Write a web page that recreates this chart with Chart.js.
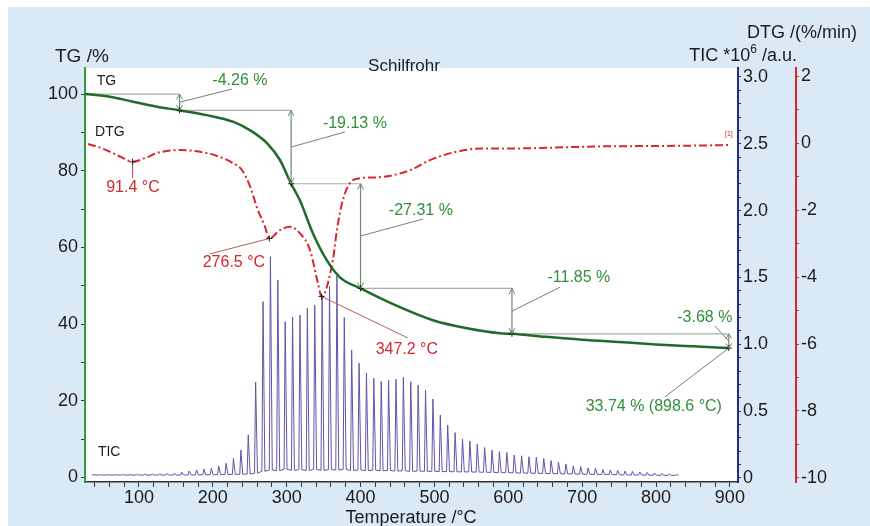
<!DOCTYPE html>
<html>
<head>
<meta charset="utf-8">
<title>Schilfrohr - TG / DTG / TIC</title>
<script src="https://cdn.jsdelivr.net/npm/chart.js@4.4.1/dist/chart.umd.min.js"></script>
<style>
    html, body { margin: 0; padding: 0; background: #ffffff; }
    #wrap { width: 870px; height: 526px; }
</style>
</head>
<body>
<div id="wrap"><canvas id="chartTG" width="870" height="526"></canvas></div>
<script>
// ---- values ----

// TG curve (mass, %)
const tgTemp = [27, 60.7, 91.9, 124.4, 155.5, 192, 227.2, 250.2, 273.3, 290.9, 306, 317.9, 335.5, 354.5, 372.1, 400,
    453.3, 497.9, 544, 588.6, 605, 650, 700, 750, 800, 850, 898.6];
const tgValue = [100, 99.3, 98.0, 96.7, 95.74, 94.5, 92.8, 90.6, 87.2, 82.8, 76.61, 72.3, 63.7, 56.6, 52.2, 49.3,
    44.4, 41.0, 38.9, 37.6, 37.45, 36.7, 35.9, 35.3, 34.7, 34.2, 33.74];

// DTG curve (%/min)
const dtgTemp = [31, 45, 60.7, 76, 91.4, 108, 124.4, 140, 155.5, 175, 192, 210, 227.2, 240, 250.2, 261, 269.9,
    276.5, 290.9, 304.4, 317.9, 331.5, 342.3, 347.2, 362.6, 368, 376.1, 385.6, 399.1, 415, 430.3, 450, 466.8, 480,
    493.9, 510, 530, 565.6, 611.2, 656.3, 724, 791.7, 859.3, 899.9];
const dtgValue = [-0.03, -0.12, -0.26, -0.42, -0.56, -0.45, -0.30, -0.23, -0.21, -0.24, -0.30, -0.42, -0.60, -0.82,
    -1.28, -2.00, -2.45, -2.85, -2.60, -2.50, -2.69, -3.19, -4.18, -4.58, -3.49, -2.60, -1.70, -1.20, -1.05, -1.03,
    -1.01, -0.93, -0.81, -0.67, -0.51, -0.38, -0.26, -0.16, -0.16, -0.14, -0.10, -0.09, -0.075, -0.06];

// TIC spikes (one MS scan every ~10 °C), peak height and local baseline, *10^6 a.u.
const ticPeakTemp = [38, 48, 58, 68, 78, 88, 98, 108, 118, 128, 138, 148, 158, 168, 178, 188, 198, 208, 218, 228,
    238, 248, 258, 268, 278, 288, 298, 308, 318, 328, 338, 348, 358, 368, 378, 388, 398, 408, 418, 428,
    438, 448, 458, 468, 478, 488, 498, 508, 518, 528, 538, 548, 558, 568, 578, 588, 598, 608, 618, 628,
    638, 648, 658, 668, 678, 688, 698, 708, 718, 728, 738, 748, 758, 768, 778, 788, 798, 808, 818, 828];
const ticPeakValue = [0.026, 0.026, 0.026, 0.026, 0.026, 0.027, 0.028, 0.029, 0.030, 0.031, 0.034, 0.037, 0.043,
    0.052, 0.060, 0.067, 0.073, 0.090, 0.110, 0.147, 0.209, 0.322, 0.718, 1.319, 1.655, 1.481, 1.169, 1.204,
    1.219, 1.269, 1.294, 1.354, 1.436, 1.511, 1.200, 0.957, 0.858, 0.785, 0.746, 0.722, 0.733, 0.737, 0.753,
    0.720, 0.696, 0.658, 0.591, 0.471, 0.396, 0.339, 0.292, 0.277, 0.254, 0.228, 0.209, 0.197, 0.191, 0.172,
    0.166, 0.159, 0.156, 0.146, 0.131, 0.120, 0.105, 0.090, 0.085, 0.075, 0.073, 0.064, 0.060, 0.056, 0.052,
    0.049, 0.045, 0.041, 0.037, 0.034, 0.030, 0.026];
const ticBaseValue = [0.022, 0.022, 0.022, 0.022, 0.022, 0.022, 0.022, 0.022, 0.022, 0.022, 0.022, 0.022, 0.022,
    0.023, 0.023, 0.024, 0.024, 0.025, 0.026, 0.027, 0.028, 0.030, 0.035, 0.050, 0.060, 0.055, 0.065, 0.058,
    0.062, 0.056, 0.064, 0.058, 0.062, 0.060, 0.065, 0.056, 0.060, 0.055, 0.058, 0.054, 0.056, 0.052, 0.054,
    0.050, 0.052, 0.050, 0.050, 0.048, 0.048, 0.046, 0.046, 0.045, 0.044, 0.043, 0.042, 0.040, 0.040, 0.038,
    0.037, 0.036, 0.035, 0.034, 0.033, 0.032, 0.031, 0.030, 0.029, 0.028, 0.027, 0.026, 0.025, 0.024, 0.023,
    0.022, 0.022, 0.021, 0.021, 0.020, 0.020, 0.020];

// TG mass-loss steps
const stepTemp = [27, 155, 306, 400, 605, 898.6];
const stepLevel = [100, 95.74, 76.61, 49.30, 37.45, 33.74];
const stepLabels = ["-4.26 %", "-19.13 %", "-27.31 %", "-11.85 %", "-3.68 %"];
const stepLabelTemp = [236.7, 392.4, 481.7, 695.6, 866.1];
const stepLabelLevel = [103.6, 92.2, 69.5, 52.0, 41.6];
const stepLeadTemp = [225.9, 378.8, 484.4, 669.9, 879.6];
const stepLeadLevel = [101.3, 90.1, 67.4, 49.6, 39.5];

const residueLabel = "33.74 % (898.6 °C)";
const residueLabelAt = [797, 18.6];
const residueLeadAt = [812, 21.0];

// DTG peaks
const peakTemp = [91.4, 276.5, 347.2];
const peakValue = [-0.56, -2.85, -4.58];
const peakLabels = ["91.4 °C", "276.5 °C", "347.2 °C"];
const peakLabelTemp = [91.9, 228.6, 462.7];
const peakLabelValue = [-1.34, -3.58, -6.18];
const peakLeadTemp = [91.4, 196.1, 464.1];
const peakLeadValue = [-1.04, -3.31, -5.82];

// axis ticks
const xTicks = [40, 60, 80, 100, 120, 140, 160, 180, 200, 220, 240, 260, 280, 300, 320, 340, 360, 380, 400, 420,
    440, 460, 480, 500, 520, 540, 560, 580, 600, 620, 640, 660, 680, 700, 720, 740, 760, 780, 800, 820, 840, 860,
    880, 900];
const xLabelTicks = [100, 200, 300, 400, 500, 600, 700, 800, 900];
const tgTicks = [0, 10, 20, 30, 40, 50, 60, 70, 80, 90, 100];
const tgLabelTicks = [0, 20, 40, 60, 80, 100];
const ticTicks = [0, 0.1, 0.2, 0.3, 0.4, 0.5, 0.6, 0.7, 0.8, 0.9, 1.0, 1.1, 1.2, 1.3, 1.4, 1.5, 1.6, 1.7, 1.8,
    1.9, 2.0, 2.1, 2.2, 2.3, 2.4, 2.5, 2.6, 2.7, 2.8, 2.9, 3.0];
const ticLabelTicks = [0, 0.5, 1.0, 1.5, 2.0, 2.5, 3.0];
const ticLabelText = ["0", "0.5", "1.0", "1.5", "2.0", "2.5", "3.0"];
const dtgTicks = [-10, -9, -8, -7, -6, -5, -4, -3, -2, -1, 0, 1, 2];
const dtgLabelTicks = [-10, -8, -6, -4, -2, 0, 2];

// ---- styling ----
const FONT = "'Liberation Sans', Arial, Helvetica, sans-serif";
const colTG = "#1f6b2c";
const colTGAxis = "#2f9b3e";
const colDTG = "#d8262c";
const colTIC = "#5d57aa";
const colTICAxis = "#2b2b7d";
const colGreenText = "#2f8f3a";
const colRedText = "#d4262b";
const colText = "#1c1c1c";
const bgBlue = "#dae9f6";

const pairs = (xs, ys) => xs.map((x, i) => ({ x: x, y: ys[i] }));

const majorLabel = (majors, texts) => (value) => {
    const i = majors.findIndex(m => Math.abs(m - value) < 1e-6);
    if (i < 0) return "";
    return texts ? texts[i] : String(majors[i]);
};

const fixTicks = (list) => (scale) => {
    scale.ticks = list.map(v => ({ value: v }));
};

// spike shapes for the TIC trace
const ticPoints = [];
ticPeakTemp.forEach((t, i) => {
    ticPoints.push({ x: t - 1.5, y: ticBaseValue[i] });
    ticPoints.push({ x: t, y: ticPeakValue[i] });
    ticPoints.push({ x: t + 2.5, y: ticBaseValue[i] });
});

const lineSet = (data, color, axis, width) => ({
    type: "line",
    data: data,
    yAxisID: axis,
    borderColor: color,
    borderWidth: width || 1,
    pointRadius: 0,
    fill: false,
    tension: 0,
    order: 5
});

// guide lines of the step analysis
const guideSets = [];
for (let i = 1; i < stepTemp.length; i++) {
    guideSets.push(lineSet([{ x: stepTemp[i - 1], y: stepLevel[i - 1] }, { x: stepTemp[i], y: stepLevel[i - 1] }],
        "#a3b3a3", "yTg", 1.2));
    guideSets.push(lineSet([{ x: stepTemp[i], y: stepLevel[i - 1] }, { x: stepTemp[i], y: stepLevel[i] }],
        "#6d8c6d", "yTg", 1.2));
    const mid = (stepLevel[i - 1] + stepLevel[i]) / 2;
    guideSets.push(lineSet([{ x: stepTemp[i], y: mid }, { x: stepLeadTemp[i - 1], y: stepLeadLevel[i - 1] }],
        "#7d7d7d", "yTg"));
}
const lastStep = stepTemp.length - 1;
guideSets.push(lineSet([{ x: stepTemp[lastStep], y: stepLevel[lastStep] }, { x: residueLeadAt[0], y: residueLeadAt[1] }],
    "#7d7d7d", "yTg"));
peakTemp.forEach((t, i) => {
    guideSets.push(lineSet([{ x: t, y: peakValue[i] }, { x: peakLeadTemp[i], y: peakLeadValue[i] }],
        "#b5605c", "yDtg"));
});

// background and plot frame
const framePlugin = {
    id: "frame",
    beforeDraw(chart) {
        const { ctx, width, height, chartArea: a } = chart;
        ctx.save();
        ctx.fillStyle = "#ffffff";
        ctx.fillRect(0, 0, width, height);
        ctx.fillStyle = bgBlue;
        ctx.fillRect(8, 7, width - 8, height - 7);
        ctx.fillStyle = "#ffffff";
        ctx.fillRect(a.left, a.top, a.right - a.left, a.bottom - a.top);
        ctx.restore();
    }
};

// titles, annotations and arrow heads
const textPlugin = {
    id: "texts",
    afterDraw(chart) {
        const { ctx } = chart;
        const sx = chart.scales.x, sTg = chart.scales.yTg, sDtg = chart.scales.yDtg;
        const put = (text, x, y, size, color, align) => {
            ctx.font = size + "px " + FONT;
            ctx.fillStyle = color;
            ctx.textAlign = align || "center";
            ctx.textBaseline = "middle";
            ctx.fillText(text, x, y);
        };
        ctx.save();

        // axis titles
        put("TG /%", 55, 57, 19, colText, "left");
        put("DTG /(%/min)", 857, 33, 18, colText, "right");
        ctx.font = "18px " + FONT;
        const part1 = "TIC *10", part3 = " /a.u.";
        const w1 = ctx.measureText(part1).width, w3 = ctx.measureText(part3).width;
        ctx.font = "12px " + FONT;
        const w2 = ctx.measureText("6").width;
        let tx = 797 - (w1 + w2 + w3);
        put(part1, tx, 56, 18, colText, "left");
        put("6", tx + w1, 50, 12, colText, "left");
        put(part3, tx + w1 + w2, 56, 18, colText, "left");
        put("Schilfrohr", 404, 66, 17, colText);
        put("Temperature /°C", 411, 518, 18, colText);

        // curve names
        put("TG", sx.getPixelForValue(43), sTg.getPixelForValue(103.4), 14, colText, "left");
        put("DTG", sx.getPixelForValue(40.6), sTg.getPixelForValue(90.1), 14, colText, "left");
        put("TIC", sx.getPixelForValue(44.5), sTg.getPixelForValue(6.6), 14, colText, "left");

        // step labels
        stepLabels.forEach((s, i) => {
            put(s, sx.getPixelForValue(stepLabelTemp[i]), sTg.getPixelForValue(stepLabelLevel[i]), 16, colGreenText);
        });
        put(residueLabel, sx.getPixelForValue(residueLabelAt[0]), sTg.getPixelForValue(residueLabelAt[1]), 16, colGreenText);

        // DTG peak labels
        peakLabels.forEach((s, i) => {
            put(s, sx.getPixelForValue(peakLabelTemp[i]), sDtg.getPixelForValue(peakLabelValue[i]), 16, colRedText);
        });
        put("[1]", sx.getPixelForValue(898.6), sDtg.getPixelForValue(0.27), 7, colRedText);

        // double arrow heads on the step arrows
        ctx.strokeStyle = "#6d8c6d";
        ctx.lineWidth = 1;
        for (let i = 1; i < stepTemp.length; i++) {
            const x = sx.getPixelForValue(stepTemp[i]);
            const y1 = sTg.getPixelForValue(stepLevel[i - 1]);
            const y2 = sTg.getPixelForValue(stepLevel[i]);
            const h = Math.min(6, (y2 - y1) / 3);
            ctx.beginPath();
            ctx.moveTo(x - 3, y1 + h); ctx.lineTo(x, y1); ctx.lineTo(x + 3, y1 + h);
            ctx.moveTo(x - 3, y2 - h); ctx.lineTo(x, y2); ctx.lineTo(x + 3, y2 - h);
            ctx.stroke();
        }
        ctx.restore();
    }
};

const axisFont = { family: FONT, size: 18 };

new Chart(document.getElementById("chartTG"), {
    type: "line",
    data: {
        datasets: [
            {
                label: "TG markers",
                data: pairs(stepTemp.slice(1), stepLevel.slice(1)),
                yAxisID: "yTg",
                showLine: false,
                pointStyle: "cross",
                pointRadius: 3,
                pointBorderColor: "#1c1c1c",
                pointBorderWidth: 1,
                order: 1
            },
            {
                label: "DTG markers",
                data: pairs(peakTemp, peakValue),
                yAxisID: "yDtg",
                showLine: false,
                pointStyle: "cross",
                pointRadius: 3,
                pointBorderColor: "#1c1c1c",
                pointBorderWidth: 1,
                order: 1
            },
            {
                label: "TG",
                data: pairs(tgTemp, tgValue),
                yAxisID: "yTg",
                borderColor: colTG,
                borderWidth: 2.5,
                pointRadius: 0,
                cubicInterpolationMode: "monotone",
                fill: false,
                order: 2
            },
            {
                label: "DTG",
                data: pairs(dtgTemp, dtgValue),
                yAxisID: "yDtg",
                borderColor: colDTG,
                borderWidth: 2,
                borderDash: [8, 3, 2, 3],
                pointRadius: 0,
                cubicInterpolationMode: "monotone",
                fill: false,
                order: 3
            },
            ...guideSets,
            {
                label: "TIC",
                data: ticPoints,
                yAxisID: "yTic",
                borderColor: colTIC,
                borderWidth: 1,
                pointRadius: 0,
                tension: 0,
                fill: false,
                order: 10
            }
        ]
    },
    options: {
        responsive: false,
        animation: false,
        devicePixelRatio: 1,
        layout: { padding: { top: 68, left: 0, right: 0, bottom: 0 } },
        plugins: {
            legend: { display: false },
            tooltip: { enabled: false },
            title: { display: false }
        },
        scales: {
            x: {
                type: "linear",
                min: 27,
                max: 911,
                afterBuildTicks: fixTicks(xTicks),
                afterFit: (scale) => { scale.height = 44; },
                grid: { drawOnChartArea: false, tickLength: 5, color: "#333333" },
                border: { display: true, color: "#333333", width: 1.5 },
                ticks: {
                    autoSkip: false, maxRotation: 0, minRotation: 0, padding: 0,
                    color: colText, font: axisFont,
                    callback: majorLabel(xLabelTicks)
                }
            },
            yTg: {
                type: "linear",
                position: "left",
                min: -1.2,
                max: 106.8,
                afterBuildTicks: fixTicks(tgTicks),
                afterFit: (scale) => { scale.width = 85; },
                grid: { drawOnChartArea: false, tickLength: 4, color: "#333333" },
                border: { display: true, color: colTGAxis, width: 2 },
                ticks: {
                    autoSkip: false, padding: 3, color: colText, font: axisFont,
                    callback: majorLabel(tgLabelTicks)
                }
            },
            yTic: {
                type: "linear",
                position: "right",
                weight: 1,
                min: -0.03,
                max: 3.067,
                afterBuildTicks: fixTicks(ticTicks),
                afterFit: (scale) => { scale.width = 58; },
                grid: { drawOnChartArea: false, tickLength: 3, color: colTICAxis },
                border: { display: true, color: colTICAxis, width: 2 },
                ticks: {
                    autoSkip: false, padding: 2, color: colText, font: axisFont,
                    callback: majorLabel(ticLabelTicks, ticLabelText)
                }
            },
            yDtg: {
                type: "linear",
                position: "right",
                weight: 2,
                min: -10.12,
                max: 2.24,
                afterBuildTicks: fixTicks(dtgTicks),
                afterFit: (scale) => { scale.width = 74; },
                grid: { drawOnChartArea: false, tickLength: 3, color: colDTG },
                border: { display: true, color: colDTG, width: 2 },
                ticks: {
                    autoSkip: false, padding: 2, color: colText, font: axisFont,
                    callback: majorLabel(dtgLabelTicks)
                }
            }
        }
    },
    plugins: [framePlugin, textPlugin]
});
</script>
</body>
</html>
